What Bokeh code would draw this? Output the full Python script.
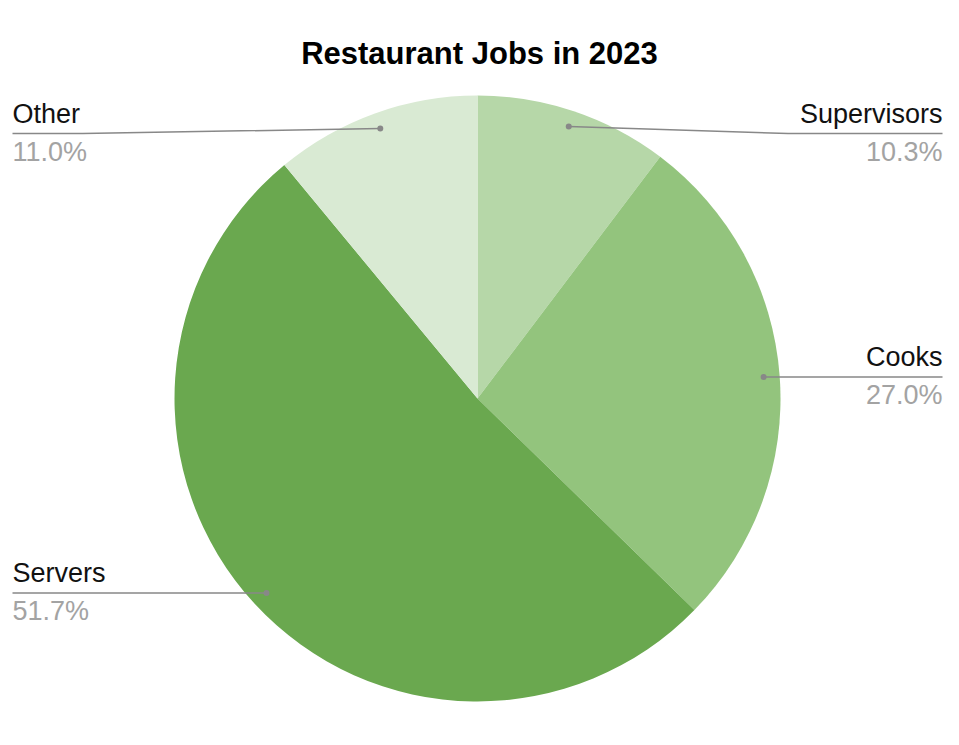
import numpy as np
from bokeh.plotting import figure
from bokeh.models import Range1d, ColumnDataSource
from bokeh.core.properties import value
from bokeh.embed import file_html
from bokeh.resources import INLINE

# ---- data ----
title_text = "Restaurant Jobs in 2023"
categories = ["Supervisors", "Cooks", "Servers", "Other"]
shares = [10.3, 27.0, 51.7, 11.0]
colors = ["#b6d7a8", "#93c47d", "#6aa84f", "#d9ead3"]

# ---- layout (pixels from top-left of plot) ----
W, H = 943, 729
CX, CY, R = 477, 398, 303
DOT_R = 0.947 * R
TOP_LINE = 133
LEFT_X, RIGHT_X = 12, 942
FONT = "Liberation Sans"
FS = 27
SHIFT = 0.37  # baseline correction (fraction of font size)


def Y(py):
    return H - np.asarray(py, dtype=float)


frac = np.array(shares) / sum(shares)
cum = np.concatenate([[0.0], np.cumsum(frac)])
start = np.pi / 2 - cum[1:] * 2 * np.pi
end = np.pi / 2 - cum[:-1] * 2 * np.pi
mid = (cum[:-1] + cum[1:]) / 2 * 2 * np.pi  # clockwise from top

p = figure(width=W, height=H, x_range=Range1d(0, W), y_range=Range1d(0, H),
           toolbar_location=None, output_backend="svg", min_border=0,
           outline_line_color=None, background_fill_color="white")
p.axis.visible = False
p.grid.visible = False

src = ColumnDataSource(dict(start=start, end=end, color=colors, cat=categories))
p.wedge(x=CX, y=Y(CY), radius=R, start_angle="start", end_angle="end",
        direction="anticlock", fill_color="color", line_color=None, source=src)

# title
p.text(x=[479], y=Y([65 - 12]), text=[title_text], text_font=value(FONT),
       text_font_size=value("31px"), text_font_style="bold", text_color="#000000",
       text_align="center", text_baseline="alphabetic")

for i, cat in enumerate(categories):
    dx = CX + DOT_R * np.sin(mid[i])
    dy = CY - DOT_R * np.cos(mid[i])
    ly = max(dy, TOP_LINE)
    pct = f"{shares[i]:.1f}%"
    tw = 0.52 * FS * max(len(cat), len(pct))
    if np.sin(mid[i]) > 0:
        far = RIGHT_X
        near = far - tw
        align = "right"
    else:
        far = LEFT_X
        near = far + tw
        align = "left"
    p.line(x=[dx, near, far], y=Y([dy, ly, ly]), line_color="#888888", line_width=1.5)
    p.scatter(x=[dx], y=Y([dy]), size=6, marker="circle", fill_color="#888888",
              line_color=None)
    p.text(x=[far], y=Y([ly - 10 - SHIFT * FS]), text=[cat], text_font=value(FONT),
           text_font_size=value(f"{FS}px"), text_color="#111111",
           text_align=align, text_baseline="alphabetic")
    p.text(x=[far], y=Y([ly + 28 - SHIFT * FS]), text=[pct], text_font=value(FONT),
           text_font_size=value(f"{FS}px"), text_color="#a3a3a3",
           text_align=align, text_baseline="alphabetic")

open("out.html", "w").write(file_html(p, INLINE))
